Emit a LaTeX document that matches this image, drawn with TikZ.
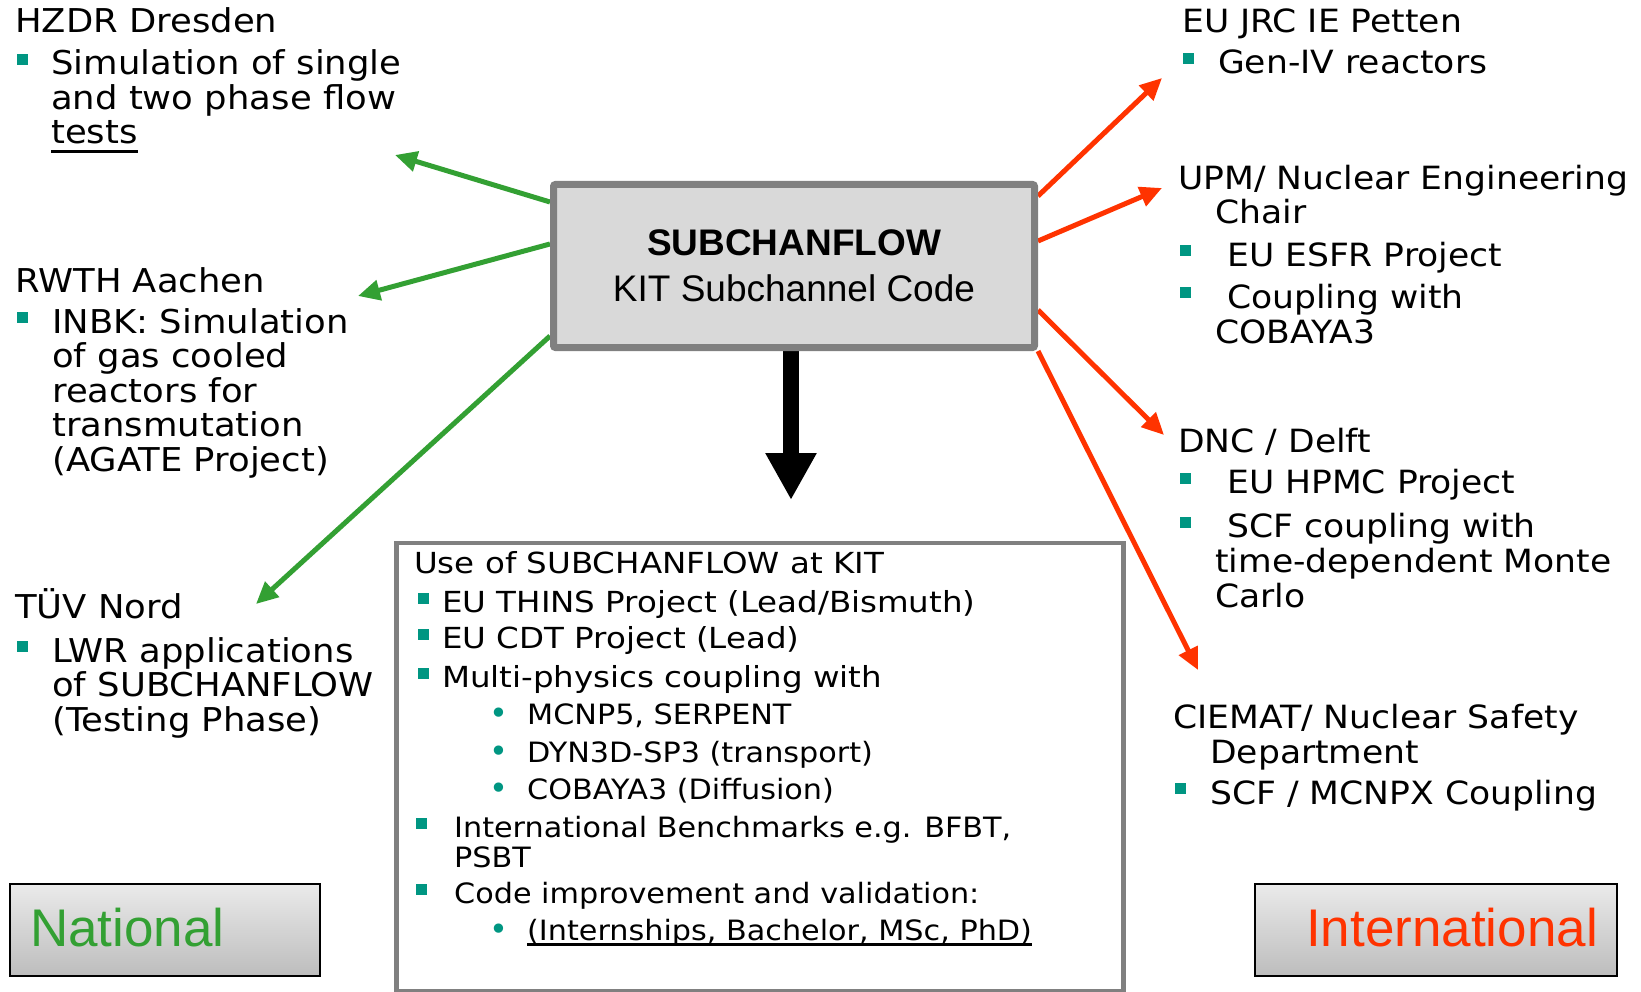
\documentclass[tikz,border=0pt]{standalone}
\usepackage{fontspec}
\usetikzlibrary{arrows.meta,backgrounds,calc}
\newfontfamily\vf[FakeStretch=1.08]{DejaVu Sans}
\newfontfamily\vfi[FakeStretch=1.12]{DejaVu Sans}
\newfontfamily\dv{DejaVu Sans}
\newfontfamily\af{Liberation Sans}
\definecolor{tealb}{RGB}{0,150,130}
\definecolor{natgreen}{RGB}{51,160,51}
\definecolor{intred}{RGB}{255,51,0}
\definecolor{boxgray}{RGB}{128,128,128}
\definecolor{boxfill}{RGB}{217,217,217}
\definecolor{gradtop}{RGB}{234,234,234}
\definecolor{gradbot}{RGB}{189,189,189}
\newcommand\bsq{{\color{tealb}\rule[10pt]{11pt}{11pt}}}
\newcommand\bsqi{{\color{tealb}\rule[8pt]{11pt}{11pt}}}
\newcommand\bdot{{\color{tealb}\dv\fontsize{32}{32}\selectfont •}}
\newcommand\ulx[2]{\setbox0\hbox{#2}\rlap{\rule[-#1]{\wd0}{2.5pt}}\box0}
\newcommand\lowf{\vf\fontsize{28}{37.5}\selectfont}
\tikzset{
  outertxt/.style={anchor=base west, align=left, inner sep=0pt, font=\vf\fontsize{32}{34.5}\selectfont},
  lefttxt/.style={outertxt, font=\vf\fontsize{32.8}{34.5}\selectfont},
  innertxt/.style={anchor=base west, align=left, inner sep=0pt, font=\vfi\fontsize{29}{37.5}\selectfont},
  garrow/.style={draw=natgreen, line width=5pt, -{Triangle[length=22pt,width=20pt]}},
  rarrow/.style={draw=intred, line width=5pt, -{Triangle[length=22pt,width=20pt]}},
  gradbox/.style={draw=black, line width=1.5pt, top color=gradtop, bottom color=gradbot, minimum height=92pt, inner sep=0pt},
}
\begin{document}
\begin{tikzpicture}[x=1pt,y=-1pt]
\useasboundingbox (0,0) rectangle (1641,992);

% central box
\node[draw=boxgray, fill=boxfill, line width=7pt, rounded corners=2pt, minimum width=481pt, minimum height=163pt, inner sep=0pt, align=center, font=\af\fontsize{37}{46}\selectfont] (box) at (794,266) {{\bfseries SUBCHANFLOW}\\KIT Subchannel Code};

% bottom box
\node[draw=boxgray, line width=4.5pt, minimum width=727pt, minimum height=448pt, inner sep=0pt, anchor=north west] (usebox) at (394.25,540.5) {};

% National / International
\node[gradbox, minimum width=310pt] (natbox) at (165,930) {};
\node[anchor=base west, inner sep=0pt, font=\af\fontsize{53}{53}\selectfont, text=natgreen] (nattxt) at (30,946) {National};
\node[gradbox, minimum width=362pt] (intbox) at (1436,930) {};
\node[anchor=base west, inner sep=0pt, font=\af\fontsize{53}{53}\selectfont, text=intred] (inttxt) at (1306,946) {International};

% left texts (positions are baselines of the last line)
\node[lefttxt] (hzdr) at (15,144) {HZDR Dresden\\[7.5pt]
\hspace*{2pt}\bsq\hspace*{23pt}Simulation of single\\
\hspace*{36pt}and two phase flow\\
\hspace*{36pt}\ulx{9pt}{tests}};

\node[lefttxt] (rwth) at (15,471) {RWTH Aachen\\[6.5pt]
\hspace*{2pt}\bsq\hspace*{24pt}INBK: Simulation\\
\hspace*{37pt}of gas cooled\\
\hspace*{37pt}reactors for\\
\hspace*{37pt}transmutation\\
\hspace*{37pt}(AGATE Project)};

\node[lefttxt] (tuev) at (15,731) {TÜV Nord\\[9.5pt]
\hspace*{2pt}\bsq\hspace*{24pt}LWR applications\\
\hspace*{37pt}of SUBCHANFLOW\\
\hspace*{37pt}(Testing Phase)};

% right texts
\node[outertxt] (jrc) at (1182,74) {EU JRC IE Petten\\[6.5pt]
\hspace*{1pt}\bsq\hspace*{24pt}Gen-IV reactors};

\node[outertxt] (upm) at (1178,343) {UPM/ Nuclear Engineering\\[0.5pt]
\hspace*{37pt}Chair\\[7.5pt]
\hspace*{2pt}\bsq\hspace*{36pt}EU ESFR Project\\[7.5pt]
\hspace*{2pt}\bsq\hspace*{36pt}Coupling with\\[0.5pt]
\hspace*{37pt}COBAYA3};

\node[outertxt] (dnc) at (1178,607) {DNC / Delft\\[6.5pt]
\hspace*{2pt}\bsq\hspace*{36pt}EU HPMC Project\\[9.5pt]
\hspace*{2pt}\bsq\hspace*{36pt}SCF coupling with\\
\hspace*{37pt}time-dependent Monte\\[0.5pt]
\hspace*{37pt}Carlo};

\node[outertxt] (ciemat) at (1173,804) {CIEMAT/ Nuclear Safety\\[0.5pt]
\hspace*{37pt}Department\\[6.5pt]
\hspace*{2pt}\bsq\hspace*{24pt}SCF / MCNPX Coupling};

% inner text
\node[innertxt] (usetxt) at (414,940.5) {Use of SUBCHANFLOW at KIT\\[1.5pt]
\hspace*{4pt}\bsqi\hspace*{13pt}EU THINS Project (Lead/Bismuth)\\[-1.5pt]
\hspace*{4pt}\bsqi\hspace*{13pt}EU CDT Project (Lead)\\[1.5pt]
\hspace*{4pt}\bsqi\hspace*{13pt}Multi-physics coupling with\\
\hspace*{75pt}\makebox[38pt][l]{\bdot}{\lowf MCNP5, SERPENT}\\
\hspace*{75pt}\makebox[38pt][l]{\bdot}{\lowf DYN3D-SP3 (transport)}\\
\hspace*{75pt}\makebox[38pt][l]{\bdot}{\lowf COBAYA3 (Diffusion)}\\
\hspace*{2pt}\bsqi\hspace*{27pt}{\lowf International Benchmarks e.g. BFBT,}\\[-7.5pt]
\hspace*{40pt}{\lowf PSBT}\\[-1.5pt]
\hspace*{2pt}\bsqi\hspace*{27pt}{\lowf Code improvement and validation:}\\
\hspace*{75pt}\makebox[38pt][l]{\bdot}{\lowf\ulx{5pt}{(Internships, Bachelor, MSc, PhD)}}};

% arrow end points
\coordinate (g1) at (395,155);
\coordinate (g2) at (358,296);
\coordinate (g3) at (256,604);
\coordinate (r1) at (1162,78);
\coordinate (r2) at (1162,188);
\coordinate (r3) at (1164,435);
\coordinate (r4) at (1198,670);
\coordinate (downtip) at (791,500);

\begin{scope}[on background layer]
\fill[white] (0,0) rectangle (1641,992);
\draw[garrow] (box.west |- 0,202) -- (g1);
\draw[garrow] (box.west |- 0,244) -- (g2);
\draw[garrow] (box.west |- 0,336) -- (g3);
\draw[rarrow] (box.east |- 0,196) -- (r1);
\draw[rarrow] (box.east |- 0,241) -- (r2);
\draw[rarrow] (box.east |- 0,310) -- (r3);
\draw[rarrow] (box.south east) -- (r4);
\draw[line width=16pt, -{Triangle[length=47pt,width=48pt]}] (box.south -| downtip) -- (downtip);
\end{scope}
\end{tikzpicture}
\end{document}
